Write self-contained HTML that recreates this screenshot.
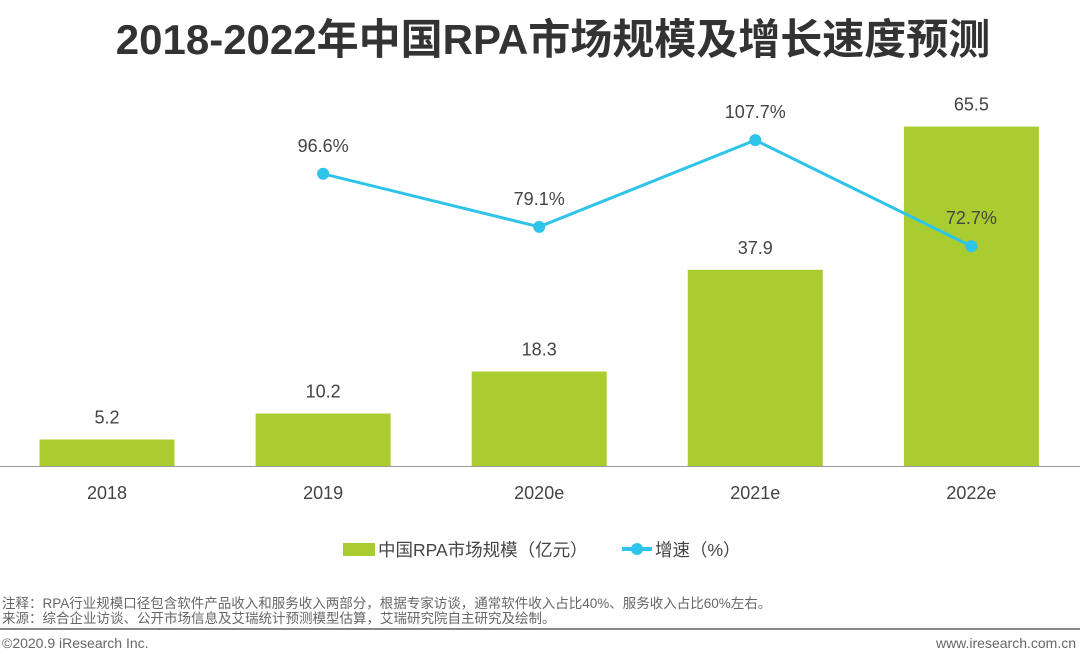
<!DOCTYPE html>
<html><head><meta charset="utf-8"><style>
body{margin:0;width:1080px;height:664px;background:#fff;overflow:hidden;font-family:"Liberation Sans","Noto Sans CJK SC",sans-serif;}
</style></head><body>
<svg width="1080" height="664" xmlns="http://www.w3.org/2000/svg" font-family="Liberation Sans, Noto Sans CJK SC, sans-serif">
<text x="553" y="54" text-anchor="middle" font-size="42" font-weight="bold" fill="#333">2018-2022年中国RPA市场规模及增长速度预测</text>
<g id="bars"></g>
<line x1="0" y1="466.5" x2="1080" y2="466.5" stroke="#999" stroke-width="1"/>
<g id="line"></g>
<g id="xlabels"></g>
<g>
<rect x="343" y="543" width="32" height="13" fill="#a9cc30"/>
<text x="378" y="556" font-size="17.5" fill="#444">中国RPA市场规模（亿元）</text>
<line x1="622" y1="549" x2="652" y2="549" stroke="#2ec4ea" stroke-width="4"/>
<circle cx="637" cy="549" r="6" fill="#2ec4ea"/>
<text x="655" y="556" font-size="17.5" fill="#444">增速（%）</text>
</g>
<text x="2" y="608" font-size="13.5" fill="#666">注释：RPA行业规模口径包含软件产品收入和服务收入两部分，根据专家访谈，通常软件收入占比40%、服务收入占比60%左右。</text>
<text x="2" y="623" font-size="13.5" fill="#666">来源：综合企业访谈、公开市场信息及艾瑞统计预测模型估算，艾瑞研究院自主研究及绘制。</text>
<line x1="0" y1="629" x2="1080" y2="629" stroke="#888" stroke-width="2"/>
<text x="2" y="648" font-size="14" fill="#666">©2020.9 iResearch Inc.</text>
<text x="1076" y="648" text-anchor="end" font-size="14" fill="#666">www.iresearch.com.cn</text>
</svg>
<script>
const categories=["2018","2019","2020e","2021e","2022e"];
const marketSize=[5.2,10.2,18.3,37.9,65.5];
const growthYears=["2019","2020e","2021e","2022e"];
const growthRate=[96.6,79.1,107.7,72.7];
const NS="http://www.w3.org/2000/svg";
const base=466.5;
function xPos(i){return 107+i*216.1;}
function yBar(v){return base-v*5.19;}
function yLine(v){return base-v*3.03;}
function mk(t,a,p){const e=document.createElementNS(NS,t);for(const k in a)e.setAttribute(k,a[k]);p.appendChild(e);return e;}
const gb=document.getElementById('bars'),gl=document.getElementById('line'),gx=document.getElementById('xlabels');
categories.forEach((c,i)=>{
 const v=marketSize[i],x=xPos(i),y=yBar(v);
 const r=mk('rect',{x:x-67.5,y:y,width:135,height:base-y,fill:'#a9cc30'},gb);
 
 
 const t=mk('text',{x:x,y:y-16,'text-anchor':'middle','font-size':18,fill:'#444'},gb);t.textContent=v.toFixed(1);
 
 
 const l=mk('text',{x:x,y:499,'text-anchor':'middle','font-size':18,fill:'#444'},gx);l.textContent=c;
 
 
});
const pts=growthYears.map((c,j)=>[xPos(categories.indexOf(c)),yLine(growthRate[j])]);
const pl=mk('polyline',{points:pts.map(p=>p.join(',')).join(' '),fill:'none',stroke:'#2ec4ea','stroke-width':3},gl);


pts.forEach((p,j)=>{
 const c=mk('circle',{cx:p[0],cy:p[1],r:6,fill:'#2ec4ea'},gl);
 
 
 const t=mk('text',{x:p[0],y:p[1]-22,'text-anchor':'middle','font-size':18,fill:'#444'},gl);t.textContent=growthRate[j].toFixed(1)+'%';
 
 
});
</script>
</body></html>
